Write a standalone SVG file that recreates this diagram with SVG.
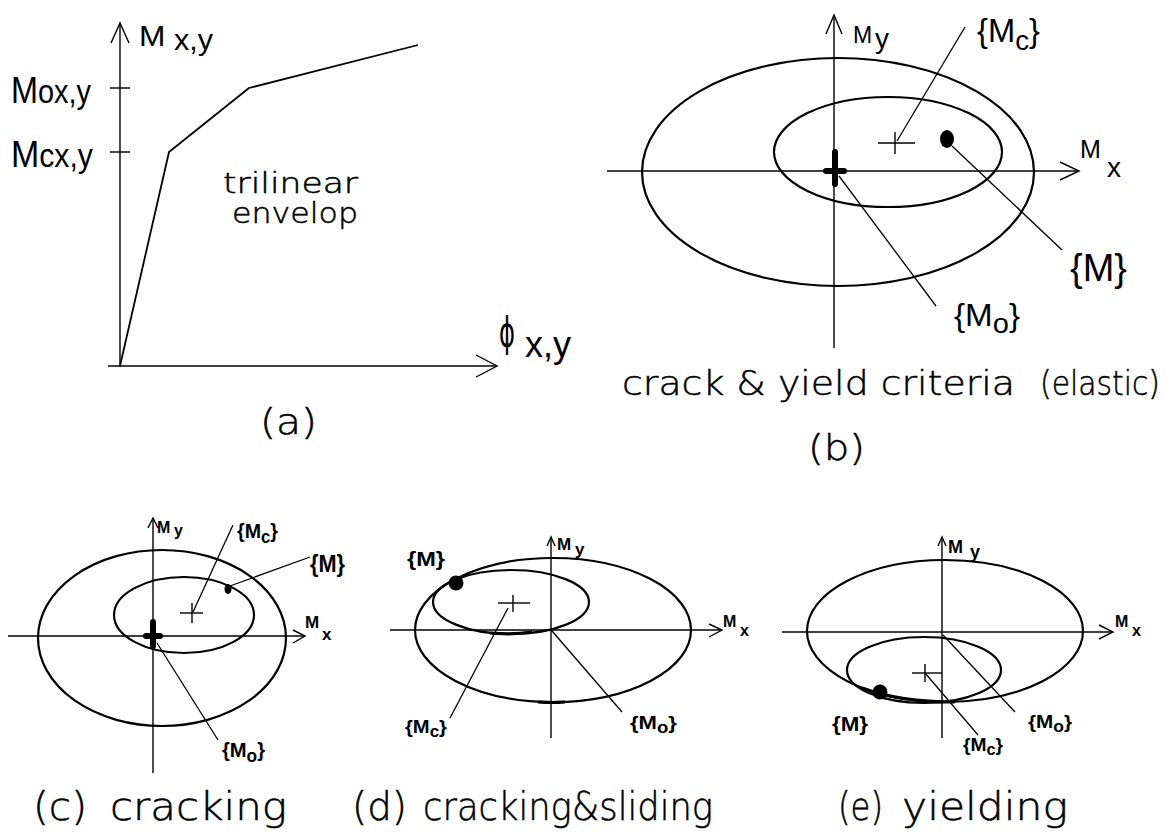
<svg xmlns="http://www.w3.org/2000/svg" width="1175" height="833" viewBox="0 0 1175 833">
<style>
.ax{stroke:#000;stroke-width:1.4;fill:none}
.el{stroke:#000;stroke-width:2.2;fill:none}
.cv{stroke:#000;stroke-width:1.8;fill:none;stroke-linejoin:round}
.ld{stroke:#000;stroke-width:1.3;fill:none}
.bold{stroke:#000;stroke-width:6;stroke-linecap:round;fill:none}
.thk{stroke:#000;stroke-width:3.2;fill:none}
.lb{font-family:"Liberation Sans",Arial,sans-serif;fill:#000}
.sm{font-family:"Liberation Sans",Arial,sans-serif;font-weight:bold;fill:#000}
.cp{font-family:"DejaVu Sans","Liberation Sans",sans-serif;font-weight:200;fill:#000;stroke:#000;stroke-width:0.5}
.phi{font-family:"DejaVu Sans",sans-serif;font-weight:normal;fill:#000}
</style>
<rect width="1175" height="833" fill="#fff"/>

<g id="panel-a">
  <line class="ax" x1="120" y1="367" x2="120" y2="23"/>
  <polyline class="ax" points="111,43 120,23 129,43"/>
  <line class="ax" x1="108" y1="366" x2="497" y2="366"/>
  <polyline class="ax" points="476,355 497,366 476,377"/>
  <line class="ax" x1="110" y1="88" x2="130" y2="88"/>
  <line class="ax" x1="110" y1="152" x2="130" y2="152"/>
  <polyline class="cv" points="120,366 169,152 249,88 418,45"/>
  <text class="lb" x="139" y="46" textLength="74" lengthAdjust="spacingAndGlyphs"><tspan font-size="30">M</tspan><tspan font-size="29" dy="4"> x,y</tspan></text>
  <text class="lb" x="11" y="103" textLength="80" lengthAdjust="spacingAndGlyphs"><tspan font-size="37">M</tspan><tspan font-size="33">ox,y</tspan></text>
  <text class="lb" x="11" y="167" textLength="82" lengthAdjust="spacingAndGlyphs"><tspan font-size="37">M</tspan><tspan font-size="33">cx,y</tspan></text>
  <text class="cp" x="223" y="193" font-size="28" textLength="135" lengthAdjust="spacingAndGlyphs">trilinear</text>
  <text class="cp" x="232" y="223" font-size="28" textLength="126" lengthAdjust="spacingAndGlyphs">envelop</text>
  <text class="phi" x="499" y="346" font-size="40" textLength="16" lengthAdjust="spacingAndGlyphs">ϕ</text>
  <text class="lb" x="525" y="357" font-size="36">x,y</text>
  <text class="cp" x="260" y="434" font-size="36" textLength="57" lengthAdjust="spacingAndGlyphs">(a)</text>
</g>

<g id="panel-b">
  <line class="ax" x1="834" y1="348" x2="834" y2="15"/>
  <polyline class="ax" points="826,34 834,15 842,34"/>
  <line class="ax" x1="607" y1="171" x2="1079" y2="171"/>
  <polyline class="ax" points="1060,162 1079,171 1060,180"/>
  <ellipse class="el" cx="838" cy="172" rx="196" ry="114"/>
  <ellipse class="el" cx="888" cy="152" rx="114" ry="55"/>
  <g id="b-Mc"><line class="ax" x1="878" y1="143" x2="915" y2="143"/><line class="ax" x1="895" y1="132" x2="895" y2="154"/></g>
  <ellipse id="b-M" cx="947" cy="139" rx="7" ry="9" fill="#000"/>
  <g id="b-Mo"><line class="bold" x1="835" y1="152" x2="835" y2="184"/><line class="bold" x1="826" y1="171" x2="844" y2="171"/></g>
  <text class="lb" x="853" y="43" font-size="23">M</text>
  <text class="lb" x="875" y="48" font-size="28">y</text>
  <text class="lb" x="1080" y="158" font-size="25">M</text>
  <text class="lb" x="1107" y="177" font-size="28">x</text>
  <text class="lb" x="977" y="42" font-size="33" textLength="63" lengthAdjust="spacingAndGlyphs">{M<tspan font-size="28" dy="8">c</tspan><tspan font-size="33" dy="-8">}</tspan></text>
  <text class="lb" x="1070" y="281" font-size="38" textLength="57" lengthAdjust="spacingAndGlyphs">{M}</text>
  <text class="lb" x="954" y="326" font-size="32" textLength="66" lengthAdjust="spacingAndGlyphs">{M<tspan font-size="28" dy="7">o</tspan><tspan font-size="32" dy="-7">}</tspan></text>
  <text class="cp" x="622" y="395" font-size="34" textLength="393" lengthAdjust="spacingAndGlyphs">crack &amp; yield criteria</text>
  <text class="cp" x="1040" y="395" font-size="34" textLength="120" lengthAdjust="spacingAndGlyphs">(elastic)</text>
  <text class="cp" x="808" y="460" font-size="36" textLength="57" lengthAdjust="spacingAndGlyphs">(b)</text>
</g>

<g id="panel-c">
  <line class="ax" x1="153" y1="773" x2="153" y2="518"/>
  <polyline class="ax" points="148,528 153,518 158,528"/>
  <line class="ax" x1="8" y1="636" x2="305" y2="636"/>
  <polyline class="ax" points="293,630 305,636 293,643"/>
  <ellipse class="el" cx="162" cy="638" rx="124" ry="88"/>
  <ellipse class="el" cx="184" cy="615" rx="70" ry="38"/>
  <g id="c-Mc"><line class="ax" x1="180" y1="613" x2="203" y2="613"/><line class="ax" x1="192" y1="603" x2="192" y2="623"/></g>
  <ellipse id="c-M" cx="228" cy="589" rx="3.5" ry="5" fill="#000"/>
  <g id="c-Mo"><line class="bold" x1="153" y1="622" x2="153" y2="646"/><line class="bold" x1="146" y1="636" x2="160" y2="636"/></g>
  <text class="sm" x="157" y="533" font-size="16">M</text>
  <text class="sm" x="174" y="536" font-size="16">y</text>
  <text class="sm" x="305" y="628" font-size="17">M</text>
  <text class="sm" x="322" y="640" font-size="17">x</text>
  <text class="sm" x="237" y="538" font-size="21" textLength="41" lengthAdjust="spacingAndGlyphs">{M<tspan font-size="18" dy="5">c</tspan><tspan font-size="21" dy="-5">}</tspan></text>
  <text class="sm" x="310" y="572" font-size="23" textLength="35" lengthAdjust="spacingAndGlyphs">{M}</text>
  <text class="sm" x="222" y="757" font-size="21" textLength="43" lengthAdjust="spacingAndGlyphs">{M<tspan font-size="18" dy="5">o</tspan><tspan font-size="21" dy="-5">}</tspan></text>
  <text class="cp" x="33" y="820" font-size="39" textLength="54" lengthAdjust="spacingAndGlyphs">(c)</text>
  <text class="cp" x="110" y="820" font-size="39" textLength="177" lengthAdjust="spacingAndGlyphs">cracking</text>
</g>

<g id="panel-d">
  <line class="ax" x1="551" y1="738" x2="551" y2="537"/>
  <polyline class="ax" points="547,546 551,537 555,546"/>
  <line class="ax" x1="390" y1="630" x2="722" y2="630"/>
  <polyline class="ax" points="709,624 722,630 709,637"/>
  <ellipse class="el" cx="553" cy="630" rx="138" ry="72"/>
  <ellipse class="el" cx="511" cy="602" rx="78" ry="32"/>
  <path class="thk" d="M 490 633 Q 512 635 532 632"/>
  <path class="thk" d="M 538 702 Q 552 703 565 702"/>
  <g id="d-Mc"><line class="ax" x1="498" y1="603" x2="530" y2="603"/><line class="ax" x1="513" y1="595" x2="513" y2="612"/></g>
  <circle id="d-M" cx="456" cy="583" r="7.5" fill="#000"/>
  <text class="sm" x="557" y="550" font-size="17">M</text>
  <text class="sm" x="575" y="555" font-size="17">y</text>
  <text class="sm" x="723" y="627" font-size="16">M</text>
  <text class="sm" x="740" y="636" font-size="16">x</text>
  <text class="sm" x="407" y="566" font-size="20" textLength="38" lengthAdjust="spacingAndGlyphs">{M}</text>
  <text class="sm" x="405" y="733" font-size="19" textLength="42" lengthAdjust="spacingAndGlyphs">{M<tspan font-size="16" dy="4">c</tspan><tspan font-size="19" dy="-4">}</tspan></text>
  <text class="sm" x="630" y="729" font-size="19" textLength="47" lengthAdjust="spacingAndGlyphs">{M<tspan font-size="16" dy="4">o</tspan><tspan font-size="19" dy="-4">}</tspan></text>
  <text class="cp" x="352" y="820" font-size="39" textLength="55" lengthAdjust="spacingAndGlyphs">(d)</text>
  <text class="cp" x="423" y="820" font-size="39" textLength="290" lengthAdjust="spacingAndGlyphs">cracking&amp;sliding</text>
</g>

<g id="panel-e">
  <line class="ax" x1="942" y1="738" x2="942" y2="537"/>
  <polyline class="ax" points="938,546 942,537 946,546"/>
  <line class="ax" x1="782" y1="632" x2="1113" y2="632"/>
  <polyline class="ax" points="1099,625 1113,632 1099,639"/>
  <ellipse class="el" cx="945" cy="631" rx="138" ry="71"/>
  <ellipse class="el" cx="924" cy="670" rx="77" ry="33"/>
  <path class="thk" d="M 862 688 Q 900 702 955 702"/>
  <g id="e-Mc"><line class="ax" x1="912" y1="673" x2="942" y2="673"/><line class="ax" x1="925" y1="664" x2="925" y2="682"/></g>
  <circle id="e-M" cx="880" cy="692" r="7.5" fill="#000"/>
  <text class="sm" x="948" y="553" font-size="18">M</text>
  <text class="sm" x="970" y="558" font-size="18">y</text>
  <text class="sm" x="1115" y="627" font-size="16">M</text>
  <text class="sm" x="1132" y="636" font-size="16">x</text>
  <text class="sm" x="832" y="731" font-size="21" textLength="36" lengthAdjust="spacingAndGlyphs">{M}</text>
  <text class="sm" x="1028" y="728" font-size="19" textLength="44" lengthAdjust="spacingAndGlyphs">{M<tspan font-size="16" dy="4">o</tspan><tspan font-size="19" dy="-4">}</tspan></text>
  <text class="sm" x="963" y="751" font-size="19" textLength="40" lengthAdjust="spacingAndGlyphs">{M<tspan font-size="16" dy="4">c</tspan><tspan font-size="19" dy="-4">}</tspan></text>
  <text class="cp" x="838" y="820" font-size="39" textLength="45" lengthAdjust="spacingAndGlyphs">(e)</text>
  <text class="cp" x="902" y="820" font-size="39" textLength="166" lengthAdjust="spacingAndGlyphs">yielding</text>
</g>

<g id="connectors">
  <line class="ld" x1="965" y1="27" x2="897" y2="141"/>
  <line class="ld" x1="952" y1="146" x2="1062" y2="250"/>
  <line class="ld" x1="839" y1="176" x2="936" y2="306"/>
  <line class="ld" x1="233" y1="525" x2="193" y2="612"/>
  <line class="ld" x1="230" y1="586" x2="310" y2="557"/>
  <line class="ld" x1="157" y1="643" x2="218" y2="740"/>
  <line class="ld" x1="450" y1="718" x2="508" y2="608"/>
  <line class="ld" x1="552" y1="631" x2="622" y2="712"/>
  <line class="ld" x1="943" y1="635" x2="1015" y2="712"/>
  <line class="ld" x1="925" y1="673" x2="978" y2="735"/>
</g>
</svg>
